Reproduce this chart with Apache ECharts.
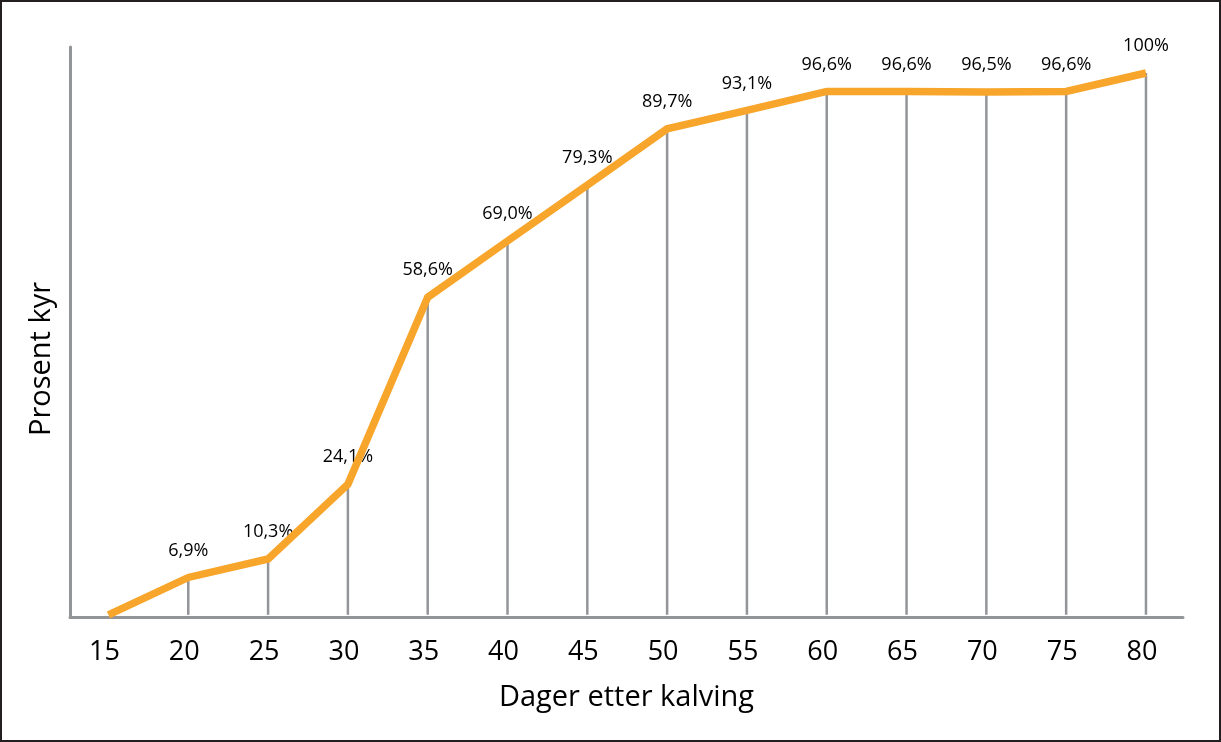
<!DOCTYPE html>
<html>
<head>
<meta charset="utf-8">
<script src="https://cdn.jsdelivr.net/npm/echarts@6/dist/echarts.min.js"></script>
<style>
html,body{margin:0;padding:0;background:#fff;}
#c{width:1221px;height:742px;}
</style>
</head>
<body>
<div id="c"></div>
<script>
var days = [15, 20, 25, 30, 35, 40, 45, 50, 55, 60, 65, 70, 75, 80];
var percent = [0, 6.9, 10.3, 24.1, 58.6, 69.0, 79.3, 89.7, 93.1, 96.6, 96.6, 96.5, 96.6, 100];
var xTicks = [15, 20, 25, 30, 35, 40, 45, 50, 55, 60, 65, 70, 75, 80];
var xTitle = 'Dager etter kalving';
var yTitle = 'Prosent kyr';

var pts = days.map(function (d, i) { return [d, percent[i]]; });
function fmt(v) {
  if (v === 0) return '';
  if (v === 100) return '100%';
  return v.toFixed(1).replace('.', ',') + '%';
}
var FONT = '"Open Sans", "Noto Sans", sans-serif';
var chart = echarts.init(document.getElementById('c'), null, {renderer: 'canvas'});
chart.setOption({
  animation: false,
  backgroundColor: '#fff',
  grid: {left: 70, right: 38, top: 47, bottom: 125, containLabel: false},
  xAxis: {
    type: 'value', min: 12.59, max: 82.32,
    name: xTitle, nameLocation: 'middle', nameGap: 66,
    nameTextStyle: {fontFamily: FONT, fontSize: 29, color: '#000'},
    axisLine: {show: true, onZero: false, lineStyle: {color: '#939598', width: 3}},
    axisTick: {show: false},
    splitLine: {show: false},
    axisLabel: {customValues: xTicks, fontFamily: FONT, fontSize: 27, color: '#000', margin: 22,
      padding: [0, 8, 0, 0]}
  },
  yAxis: {
    type: 'value', min: -0.4, max: 104.8,
    axisLine: {show: true, lineStyle: {color: '#939598', width: 3}},
    axisTick: {show: false}, axisLabel: {show: false}, splitLine: {show: false}
  },
  graphic: [
    {type: 'rect', shape: {x: 1, y: 1, width: 1219, height: 740}, style: {fill: 'none', stroke: '#231f20', lineWidth: 2}, silent: true},
    {type: 'text', x: 42, y: 359, rotation: Math.PI / 2,
     style: {text: yTitle, font: '29px ' + FONT, fill: '#000', align: 'center', verticalAlign: 'middle'}}
  ],
  series: [
    {
      type: 'bar', data: pts, barWidth: 2.5, silent: true,
      itemStyle: {color: '#939598'},
      label: {show: true, position: 'top', distance: 18, fontFamily: FONT, fontSize: 18, color: '#000',
        formatter: function (p) { return fmt(p.value[1]); }},
      z: 1
    },
    {
      type: 'line', data: pts, symbol: 'none', silent: true,
      lineStyle: {color: '#F8A52B', width: 7.5, join: 'miter', cap: 'butt'},
      z: 3
    }
  ]
});
</script>
</body>
</html>
